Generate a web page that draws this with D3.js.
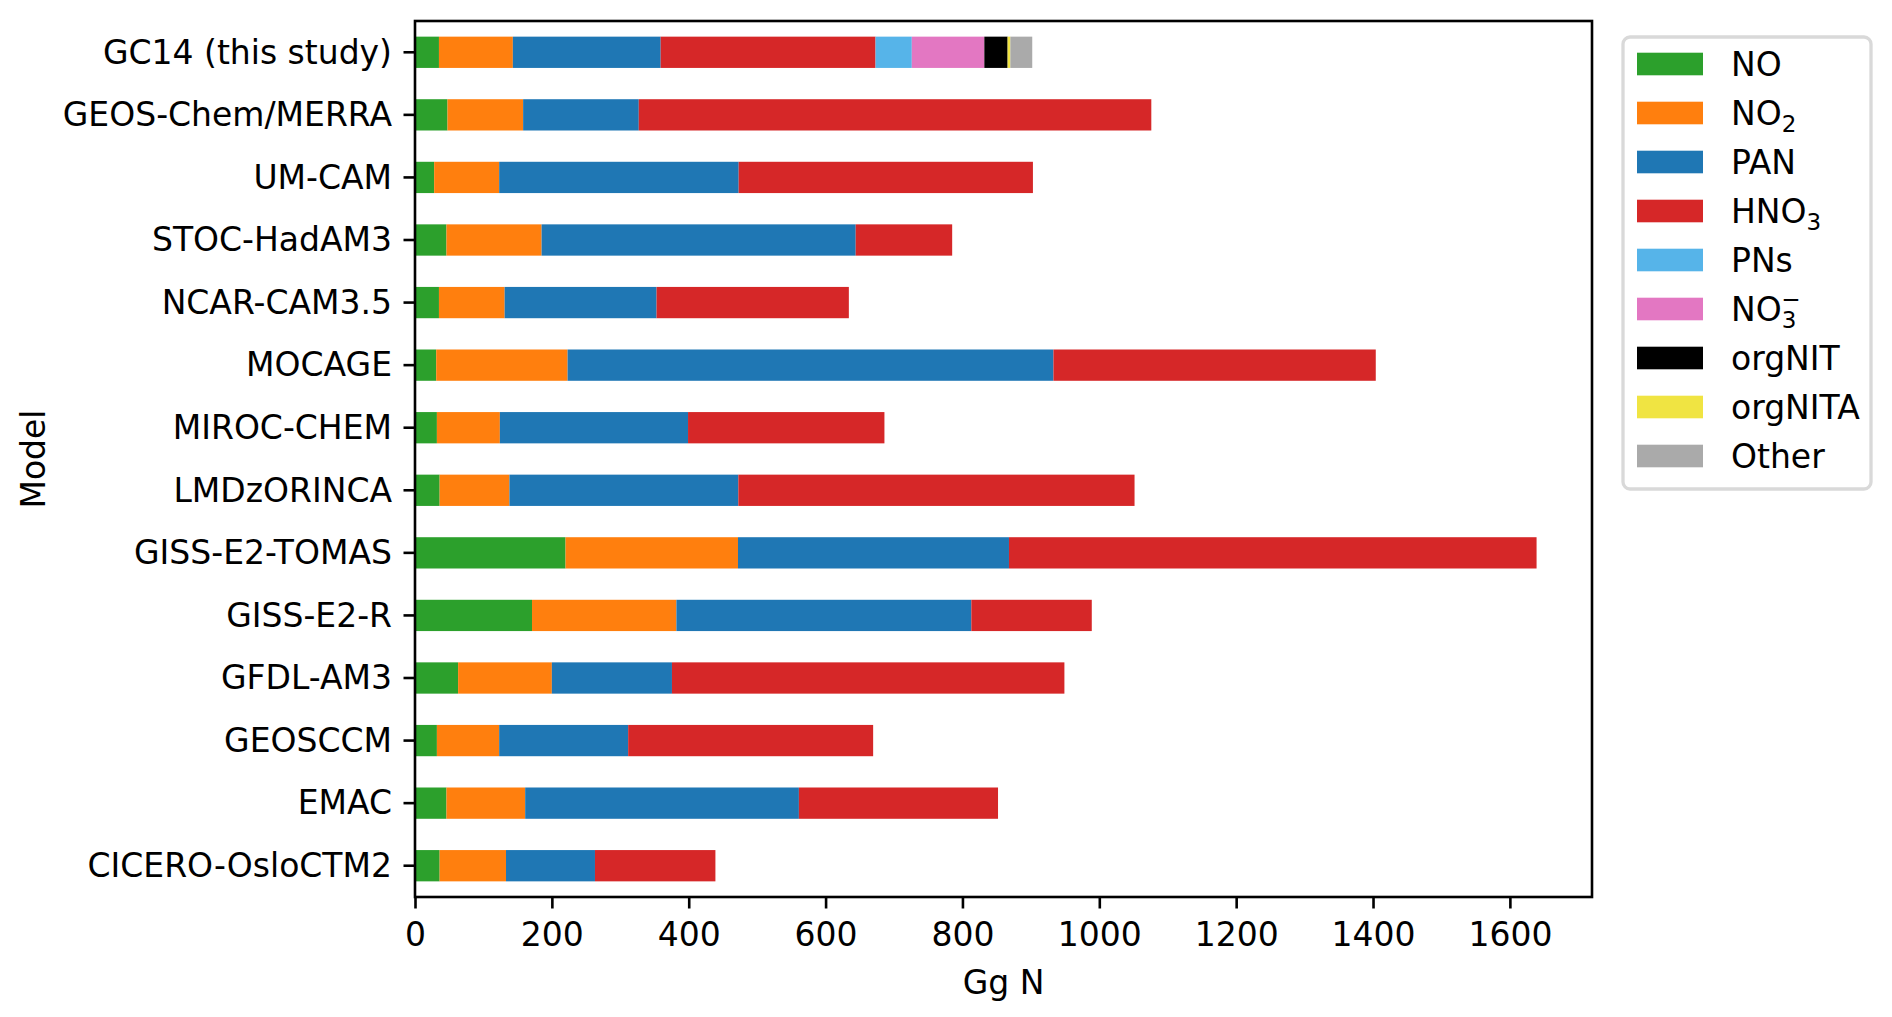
<!DOCTYPE html>
<html>
<head>
<meta charset="utf-8">
<script src="https://cdn.jsdelivr.net/npm/d3@7"></script>
<style>
  body { margin: 0; background: #fff; }
  svg text { font-family: "DejaVu Sans", sans-serif; fill: #000; }
</style>
</head>
<body>
<svg width="1892" height="1017"></svg>
<script>
// models, top to bottom
var models = ["GC14 (this study)", "GEOS-Chem/MERRA", "UM-CAM", "STOC-HadAM3",
  "NCAR-CAM3.5", "MOCAGE", "MIROC-CHEM", "LMDzORINCA", "GISS-E2-TOMAS",
  "GISS-E2-R", "GFDL-AM3", "GEOSCCM", "EMAC", "CICERO-OsloCTM2"];

// Gg N per species
var NO      = [35, 47.5, 28, 46, 35, 31, 32, 36, 220, 171, 63, 32, 46, 36];
var NO2     = [108, 110.5, 95, 139, 96, 192, 92, 102, 252, 211, 137, 91, 115, 97];
var PAN     = [216, 169, 350, 459, 222, 710, 275, 334.5, 396, 431, 175.5, 188.5, 400, 130];
var HNO3    = [314, 749, 430, 141, 281, 471, 287, 579, 771, 176, 573.5, 358, 291, 176];
var PNs     = [53, 0, 0, 0, 0, 0, 0, 0, 0, 0, 0, 0, 0, 0];
var NO3     = [106, 0, 0, 0, 0, 0, 0, 0, 0, 0, 0, 0, 0, 0];
var orgNIT  = [34, 0, 0, 0, 0, 0, 0, 0, 0, 0, 0, 0, 0, 0];
var orgNITA = [4, 0, 0, 0, 0, 0, 0, 0, 0, 0, 0, 0, 0, 0];
var Other   = [32, 0, 0, 0, 0, 0, 0, 0, 0, 0, 0, 0, 0, 0];

var seriesKeys = ["NO", "NO2", "PAN", "HNO3", "PNs", "NO3", "orgNIT", "orgNITA", "Other"];
var seriesVals = [NO, NO2, PAN, HNO3, PNs, NO3, orgNIT, orgNITA, Other];
var colors = ["#2ca02c", "#ff7f0e", "#1f77b4", "#d62728", "#56b4e9",
  "#e377c2", "#000000", "#f0e442", "#aaaaaa"];
// legend labels: [main, subscript, superscript]
var legendLabels = [["NO", "", ""], ["NO", "2", ""], ["PAN", "", ""], ["HNO", "3", ""],
  ["PNs", "", ""], ["NO", "3", "\u2212"], ["orgNIT", "", ""], ["orgNITA", "", ""], ["Other", "", ""]];

var xTicks = [0, 200, 400, 600, 800, 1000, 1200, 1400, 1600];

var svg = d3.select("svg"),
  margin = { top: 21, left: 415 },
  width = 1177,
  height = 876,
  fs = 33;

var g = svg.append("g")
  .attr("transform", "translate(" + margin.left + "," + margin.top + ")");

var x = d3.scaleLinear().domain([0, 1720]).range([0, width]);
var y = d3.scaleBand().domain(models).range([0, height])
  .paddingInner(0.5).paddingOuter(0.25);

// build stacked table
var table = models.map(function(m, i) {
  var row = { model: m };
  seriesKeys.forEach(function(k, j) { row[k] = seriesVals[j][i]; });
  return row;
});
var stacked = d3.stack().keys(seriesKeys)(table);

g.selectAll("g.layer")
  .data(stacked)
  .enter().append("g")
  .attr("class", "layer")
  .attr("fill", function(d, i) { return colors[i]; })
  .selectAll("rect")
  .data(function(d) { return d; })
  .enter().append("rect")
  .attr("x", function(d) { return x(d[0]); })
  .attr("y", function(d) { return y(d.data.model); })
  .attr("width", function(d) { return x(d[1]) - x(d[0]); })
  .attr("height", y.bandwidth());

// axes
var xAxis = g.append("g")
  .attr("transform", "translate(0," + height + ")")
  .call(d3.axisBottom(x).tickValues(xTicks).tickFormat(d3.format("d"))
    .tickSize(11.5).tickPadding(14).tickSizeOuter(0));
var yAxis = g.append("g")
  .call(d3.axisLeft(y).tickSize(11.5).tickPadding(11.5).tickSizeOuter(0));

[xAxis, yAxis].forEach(function(a) {
  a.select(".domain").remove();
  a.selectAll(".tick line").attr("stroke", "#000").attr("stroke-width", 2.6);
  a.selectAll(".tick text").style("font-size", fs + "px")
    .style("font-family", "DejaVu Sans, sans-serif").attr("fill", "#000");
});
yAxis.selectAll(".tick text").attr("dy", "0.34em");

// frame
g.append("rect")
  .attr("width", width)
  .attr("height", height)
  .attr("fill", "none")
  .attr("stroke", "#000")
  .attr("stroke-width", 2.6);

// axis labels
svg.append("text")
  .attr("x", margin.left + width / 2)
  .attr("y", 994)
  .attr("text-anchor", "middle")
  .style("font-size", fs + "px")
  .text("Gg N");

svg.append("text")
  .attr("transform", "translate(45," + (margin.top + height / 2) + ") rotate(-90)")
  .attr("text-anchor", "middle")
  .style("font-size", fs + "px")
  .text("Model");

// legend
var legend = svg.append("g").attr("transform", "translate(1623,37)");
legend.append("rect")
  .attr("width", 248)
  .attr("height", 452)
  .attr("rx", 7)
  .attr("fill", "#fff")
  .attr("fill-opacity", 0.8)
  .attr("stroke", "#d9d9d9")
  .attr("stroke-width", 3.3);

var items = legend.selectAll("g.item")
  .data(legendLabels)
  .enter().append("g")
  .attr("class", "item")
  .attr("transform", function(d, i) { return "translate(0," + (27 + i * 49) + ")"; });

items.append("rect")
  .attr("x", 14)
  .attr("y", -11.3)
  .attr("width", 66)
  .attr("height", 22.6)
  .attr("fill", function(d, i) { return colors[i]; });

var lt = items.append("text")
  .attr("x", 108)
  .attr("y", 11.5)
  .style("font-size", fs + "px");
lt.append("tspan").text(function(d) { return d[0]; });
lt.filter(function(d) { return d[1]; })
  .append("tspan")
  .attr("dy", 7)
  .style("font-size", "23px")
  .text(function(d) { return d[1]; });
lt.filter(function(d) { return d[2]; })
  .append("tspan")
  .attr("dx", -15)
  .attr("dy", -20.5)
  .style("font-size", "23px")
  .text(function(d) { return d[2]; });
</script>
</body>
</html>
